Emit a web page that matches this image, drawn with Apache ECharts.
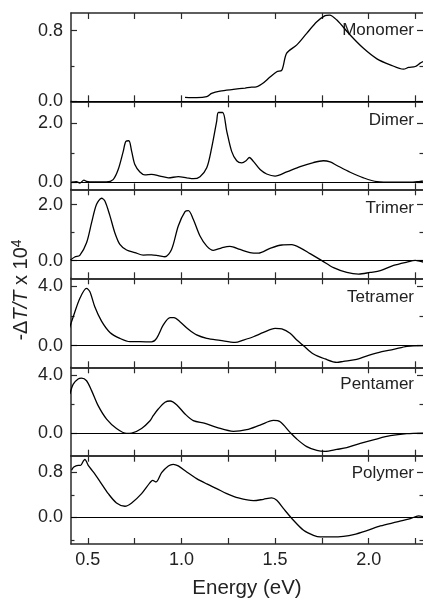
<!DOCTYPE html>
<html><head><meta charset="utf-8">
<script src="https://cdn.jsdelivr.net/npm/echarts@6/dist/echarts.min.js"></script>
<style>html,body{margin:0;padding:0;background:#fff}#c{width:423px;height:601px}</style>
</head><body><div id="c"></div>
<script>
// ---- data ----
const panelNames = ['Monomer', 'Dimer', 'Trimer', 'Tetramer', 'Pentamer', 'Polymer'];
const xTickValues = [0.5, 0.75, 1.0, 1.25, 1.5, 1.75, 2.0, 2.25];
const xLabelValues = [0.5, 1.0, 1.5, 2.0];

const monomerX = [1.019,1.081,1.135,1.161,1.206,1.277,1.340,1.375,1.393,1.429,1.473,1.509,1.536,1.562,1.616,1.669,1.723,1.767,1.791,1.830,1.901,1.972,2.044,2.115,2.186,2.213,2.249,2.275,2.29];
const monomerY = [0.045,0.041,0.053,0.09,0.116,0.135,0.15,0.16,0.16,0.195,0.274,0.334,0.353,0.545,0.639,0.77,0.90,0.97,0.977,0.92,0.751,0.60,0.481,0.413,0.364,0.383,0.394,0.432,0.45];

const dimerX = [0.413,0.439,0.457,0.479,0.493,0.529,0.600,0.635,0.662,0.689,0.703,0.719,0.734,0.751,0.778,0.805,0.840,0.885,0.930,0.983,1.028,1.063,1.099,1.135,1.161,1.188,1.197,1.220,1.242,1.268,1.295,1.322,1.345,1.363,1.384,1.420,1.455,1.500,1.562,1.634,1.705,1.758,1.794,1.830,1.901,1.972,2.044,2.133,2.222,2.275,2.291];
const dimerY = [0,0.02,-0.03,0.07,0.03,0.01,0.01,0.09,0.43,1.05,1.39,1.41,1.05,0.60,0.35,0.25,0.27,0.21,0.15,0.19,0.15,0.12,0.19,0.49,1.16,2.07,2.37,2.37,1.73,1.05,0.73,0.66,0.73,0.84,0.71,0.43,0.28,0.21,0.35,0.53,0.67,0.73,0.69,0.57,0.34,0.15,0.02,0.0,0.0,0.03,0.04];

const trimerX = [0.407,0.430,0.457,0.493,0.520,0.546,0.573,0.591,0.618,0.644,0.671,0.707,0.751,0.796,0.840,0.876,0.912,0.947,0.983,1.019,1.037,1.063,1.099,1.135,1.170,1.215,1.259,1.313,1.366,1.411,1.473,1.536,1.589,1.634,1.687,1.750,1.812,1.883,1.946,2.008,2.062,2.133,2.204,2.249,2.291];
const trimerY = [0.02,0.13,0.19,0.64,1.36,2.01,2.23,2.13,1.60,1.0,0.58,0.38,0.29,0.20,0.21,0.18,0.14,0.40,1.24,1.75,1.79,1.48,0.88,0.52,0.37,0.46,0.51,0.40,0.29,0.27,0.44,0.56,0.57,0.46,0.25,0.0,-0.25,-0.42,-0.48,-0.42,-0.36,-0.17,-0.05,0.01,-0.05];

const tetramerX = [0.400,0.422,0.457,0.493,0.511,0.537,0.573,0.618,0.671,0.725,0.778,0.840,0.867,0.903,0.939,0.960,0.992,1.037,1.081,1.135,1.206,1.286,1.331,1.384,1.438,1.500,1.536,1.580,1.616,1.652,1.705,1.767,1.830,1.865,1.928,1.999,2.070,2.133,2.204,2.291];
const tetramerY = [1.12,1.94,3.17,3.84,3.62,2.61,1.65,0.89,0.49,0.27,0.27,0.25,0.49,1.39,1.88,1.88,1.61,1.10,0.72,0.49,0.36,0.22,0.38,0.60,0.89,1.16,1.12,0.83,0.38,0.0,-0.56,-0.89,-1.12,-1.05,-0.94,-0.65,-0.40,-0.25,-0.04,0.0];

const pentamerX = [0.404,0.422,0.448,0.466,0.493,0.520,0.555,0.600,0.653,0.707,0.734,0.787,0.832,0.849,0.876,0.912,0.939,0.974,1.019,1.063,1.126,1.188,1.277,1.348,1.420,1.491,1.527,1.580,1.616,1.669,1.723,1.767,1.830,1.883,1.955,2.035,2.115,2.204,2.291];
const pentamerY = [2.70,3.38,3.73,3.79,3.61,2.93,1.90,0.98,0.34,0.0,0.02,0.34,0.87,1.21,1.67,2.13,2.22,1.97,1.33,0.87,0.69,0.41,0.14,0.25,0.57,0.89,0.80,0.07,-0.39,-0.91,-1.17,-1.23,-1.10,-0.98,-0.69,-0.41,-0.16,-0.02,0.02];

const polymerX = [0.413,0.425,0.448,0.461,0.475,0.484,0.502,0.529,0.564,0.609,0.653,0.698,0.734,0.787,0.832,0.846,0.864,0.894,0.930,0.956,0.983,1.028,1.081,1.135,1.188,1.242,1.304,1.384,1.438,1.482,1.509,1.545,1.598,1.652,1.705,1.741,1.812,1.865,1.919,1.990,2.062,2.151,2.222,2.266,2.291];
const polymerY = [0.836,0.895,0.924,0.924,0.996,1.031,0.924,0.806,0.640,0.421,0.255,0.196,0.255,0.421,0.616,0.658,0.628,0.794,0.913,0.942,0.913,0.806,0.687,0.593,0.510,0.421,0.344,0.296,0.320,0.344,0.302,0.154,-0.053,-0.231,-0.320,-0.350,-0.350,-0.338,-0.308,-0.237,-0.154,-0.083,-0.024,0.024,0.012];

const seriesX = [monomerX, dimerX, trimerX, tetramerX, pentamerX, polymerX];
const seriesY = [monomerY, dimerY, trimerY, tetramerY, pentamerY, polymerY];

const yMin = [0, -0.24, -0.63, -1.45, -1.53, -0.475];
const yMax = [1.0, 2.75, 2.55, 4.52, 4.53, 1.095];
const yMajorTicks = [[0, 0.8], [0, 2.0], [0, 2.0], [0, 4.0], [0, 4.0], [0, 0.8]];
const yMinorTicks = [[0.4], [1.0], [1.0], [2.0], [2.0], [-0.4, 0.4]];

// ---- layout ----
const FONT = 'Liberation Sans, Arial, Helvetica, sans-serif';
const panelTops = [13, 101.3, 189.3, 278.3, 367.3, 455.7];
const panelBottoms = [101.3, 189.3, 278.3, 367.3, 455.7, 544];
const labelY = [30.5, 120, 208, 297.5, 384.5, 473];
const X_MIN = 0.41, X_MAX = 2.29;
const AXIS_COLOR = '#2a2a2a';

const grids = [], xAxes = [], yAxes = [], series = [], graphics = [];
const n = panelNames.length;

for (let k = 0; k < 2; k++) {
  for (let i = 0; i < n; i++) {
    grids.push({ left: 71, right: 0, top: panelTops[i], height: panelBottoms[i] - panelTops[i] });
  }
}

function xAxisFor(gi, pos, showLabel, name) {
  return {
    type: 'value', gridIndex: gi, position: pos, min: X_MIN, max: X_MAX,
    splitLine: { show: false },
    axisLine: { show: true, onZero: false, lineStyle: { color: AXIS_COLOR, width: 1.5 } },
    axisTick: { show: true, inside: true, length: 6, customValues: xTickValues, lineStyle: { color: AXIS_COLOR, width: 1.2 } },
    axisLabel: { show: showLabel, customValues: xLabelValues, margin: 7, fontSize: 18, color: '#222', fontFamily: FONT,
      formatter: v => v.toFixed(1) },
    name: name || '', nameLocation: 'middle', nameGap: 34,
    nameTextStyle: { fontSize: 20.5, color: '#222', fontFamily: FONT }
  };
}

const xBottomIdx = [], yLeftIdx = [];
for (let i = 0; i < n; i++) {
  xBottomIdx.push(xAxes.length);
  xAxes.push(xAxisFor(i, 'bottom', i === n - 1, i === n - 1 ? 'Energy (eV)' : ''));
  xAxes.push(xAxisFor(i, 'top', false));
  yLeftIdx.push(yAxes.length);
  yAxes.push({
    type: 'value', gridIndex: i, position: 'left', min: yMin[i], max: yMax[i],
    splitLine: { show: false },
    axisLine: { show: true, onZero: false, lineStyle: { color: AXIS_COLOR, width: 1.5 } },
    axisTick: { show: true, inside: true, length: 6, customValues: yMajorTicks[i], lineStyle: { color: AXIS_COLOR, width: 1.2 } },
    axisLabel: { show: true, customValues: yMajorTicks[i], margin: 8, fontSize: 18, color: '#222', fontFamily: FONT,
      formatter: v => v.toFixed(1) }
  });
  yAxes.push({
    type: 'value', gridIndex: i, position: 'right', min: yMin[i], max: yMax[i],
    splitLine: { show: false },
    axisLine: { show: false, onZero: false },
    axisTick: { show: true, inside: true, length: 6, customValues: yMajorTicks[i], lineStyle: { color: AXIS_COLOR, width: 1.2 } },
    axisLabel: { show: false }
  });
}
// minor tick grids
for (let i = 0; i < n; i++) {
  const gi = n + i;
  xAxes.push({ type: 'value', gridIndex: gi, min: X_MIN, max: X_MAX, show: false });
  ['left', 'right'].forEach(pos => {
    yAxes.push({
      type: 'value', gridIndex: gi, position: pos, min: yMin[i], max: yMax[i],
      splitLine: { show: false },
      axisLine: { show: false, onZero: false },
      axisTick: { show: true, inside: true, length: 3.5, customValues: yMinorTicks[i], lineStyle: { color: AXIS_COLOR, width: 1.2 } },
      axisLabel: { show: false }
    });
  });
}

for (let i = 0; i < n; i++) {
  const data = seriesX[i].map((x, k) => [x, seriesY[i][k]]);
  series.push({
    type: 'line', xAxisIndex: xBottomIdx[i], yAxisIndex: yLeftIdx[i], data: data,
    showSymbol: false, symbol: 'none', smooth: 0.3, clip: true,
    lineStyle: { color: '#000', width: 1.3 },
    markLine: {
      silent: true, symbol: ['none', 'none'], animation: false,
      label: { show: false },
      lineStyle: { color: '#000', width: 1.1, type: 'solid' },
      data: [{ yAxis: 0 }]
    }
  });
  graphics.push({
    type: 'text', x: 414, y: labelY[i],
    style: { text: panelNames[i], fontSize: 17, fontFamily: FONT, fill: '#222', align: 'right', verticalAlign: 'middle' }
  });
}

graphics.push({
  type: 'text', x: 21, y: 290, rotation: Math.PI / 2,
  style: {
    text: '{a|-Δ}{i|T/T}{a| x 10}{s|4}',
    align: 'center', verticalAlign: 'middle', fill: '#222',
    rich: {
      a: { fontSize: 20, fontFamily: FONT, fill: '#222', lineHeight: 22 },
      i: { fontSize: 20, fontFamily: FONT, fontStyle: 'italic', fill: '#222', lineHeight: 22 },
      s: { fontSize: 14, fontFamily: FONT, fill: '#222', verticalAlign: 'top', lineHeight: 22 }
    }
  }
});

const chart = echarts.init(document.getElementById('c'), null, { renderer: 'canvas' });
chart.setOption({
  animation: false,
  backgroundColor: '#fff',
  grid: grids, xAxis: xAxes, yAxis: yAxes, series: series, graphic: graphics
});
</script></body></html>
